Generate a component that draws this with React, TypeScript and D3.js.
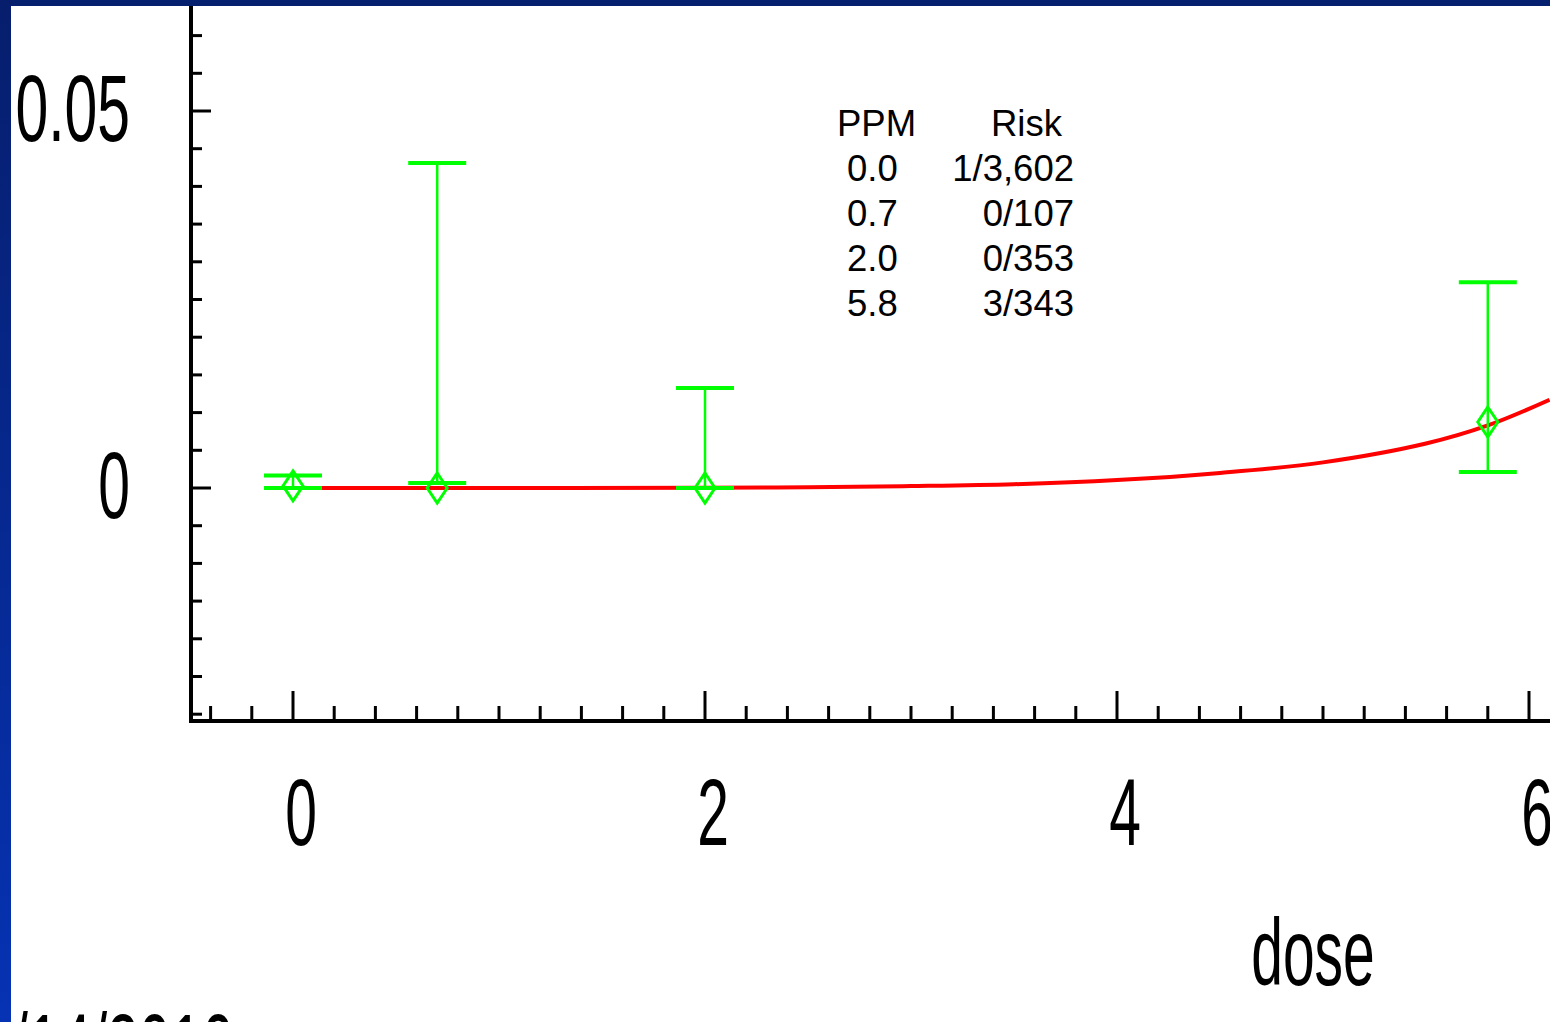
import React, { useEffect } from 'react';
import * as d3 from 'd3';

const W = 1550;
const H = 1022;

// observed points (dose in ppm, observed risk, lower / upper bound)
const doses = [0, 0.7, 2.0, 5.8];
const risks = [0.00028, 0, 0, 0.00875];
const lowers = [0, 0.00066, 0, 0.00212];
const uppers = [0.00166, 0.0431, 0.01326, 0.0273];

// fitted curve
const fitDose = [0, 1, 2, 2.5, 3, 3.5, 4, 4.5, 5, 5.5, 5.8, 6.1];
const fitRisk = [0, 0.00001, 0.00004, 0.0001, 0.00025, 0.0005, 0.00105, 0.002, 0.0034, 0.0059, 0.0083, 0.0117];

const xMajor = [0, 2, 4, 6];
const yMajor = [0, 0.05];
const yLabels = ['0', '0.05'];

const legendPpm = ['0.0', '0.7', '2.0', '5.8'];
const legendRisk = ['1/3,602', '0/107', '0/353', '3/343'];

const green = '#00ff00';
const narrow = 'Liberation Sans, Arial, sans-serif';

export default function App() {
  useEffect(() => {
    document.body.style.margin = '0';
    document.body.style.overflow = 'hidden';
  }, []);

  const x = d3.scaleLinear().domain([0, 6]).range([293, 1529]);
  const y = d3.scaleLinear().domain([0, 0.05]).range([488, 111]);

  const axisX = 191;
  const axisY = 721;

  const xMinor = d3.range(-2, 31).map((i) => i / 5).filter((v) => !xMajor.includes(v));
  const yMinor = d3.range(-6, 13).map((i) => i / 200).filter((v) => !yMajor.includes(v));

  const line = d3
    .line<number>()
    .x((d) => x(d))
    .y((d, i) => y(fitRisk[i]))
    .curve(d3.curveCatmullRom.alpha(0.5));

  return (
    <svg width={W} height={H} style={{ position: 'absolute', left: 0, top: 0, background: '#fff' }}>
      <defs>
        <linearGradient id="side" x1="0" y1="0" x2="0" y2="1">
          <stop offset="0" stopColor="#061e6c" />
          <stop offset="1" stopColor="#0633b4" />
        </linearGradient>
      </defs>
      <rect x={0} y={0} width={W} height={H} fill="#fff" />

      {/* fitted curve */}
      <path d={line(fitDose) || ''} fill="none" stroke="#ff0000" strokeWidth={4} />

      {/* error bars and diamonds */}
      {doses.map((d, i) => {
        const cx = x(d);
        const cy = y(risks[i]);
        return (
          <g key={'p' + i} stroke={green} fill="none">
            <line x1={cx} x2={cx} y1={y(uppers[i])} y2={y(lowers[i])} strokeWidth={2.5} />
            <line x1={cx - 29} x2={cx + 29} y1={y(uppers[i])} y2={y(uppers[i])} strokeWidth={4} />
            <line x1={cx - 29} x2={cx + 29} y1={y(lowers[i])} y2={y(lowers[i])} strokeWidth={4} />
            <path
              d={`M${cx},${cy - 15}L${cx + 10},${cy}L${cx},${cy + 15}L${cx - 10},${cy}Z`}
              strokeWidth={3}
            />
          </g>
        );
      })}

      {/* y axis */}
      <line x1={axisX} x2={axisX} y1={0} y2={axisY + 2} stroke="#000" strokeWidth={4} />
      {yMinor.map((v) => (
        <line key={'ym' + v} x1={axisX} x2={axisX + 11} y1={y(v)} y2={y(v)} stroke="#000" strokeWidth={3} />
      ))}
      {yMajor.map((v, i) => (
        <g key={'yM' + v}>
          <line x1={axisX} x2={axisX + 20} y1={y(v)} y2={y(v)} stroke="#000" strokeWidth={3} />
          <text
            transform={`translate(130,${y(v) + 30}) scale(${i === 1 ? 0.62 : 0.6},1)`}
            textAnchor="end"
            fontFamily={narrow}
            fontSize={95}
            fill="#000"
          >
            {yLabels[i]}
          </text>
        </g>
      ))}

      {/* x axis */}
      <line x1={axisX - 2} x2={W} y1={axisY} y2={axisY} stroke="#000" strokeWidth={4} />
      {xMinor.map((v) => (
        <line key={'xm' + v} x1={x(v)} x2={x(v)} y1={axisY} y2={axisY - 15} stroke="#000" strokeWidth={3} />
      ))}
      {xMajor.map((v) => (
        <g key={'xM' + v}>
          <line x1={x(v)} x2={x(v)} y1={axisY} y2={axisY - 30} stroke="#000" strokeWidth={3} />
          <text
            transform={`translate(${x(v) + 8},845) scale(0.6,1)`}
            textAnchor="middle"
            fontFamily={narrow}
            fontSize={95}
            fill="#000"
          >
            {String(v)}
          </text>
        </g>
      ))}
      <text
        transform="translate(1313,985) scale(0.6,1)"
        textAnchor="middle"
        fontFamily={narrow}
        fontSize={95}
        fill="#000"
      >
        dose
      </text>
      <text transform="translate(12,1080) scale(0.6,1)" fontFamily={narrow} fontSize={95} fill="#000">
        /14/2010
      </text>

      {/* legend table */}
      <g fontFamily={narrow} fontSize={36.5} fill="#000">
        <text x={837} y={136}>PPM</text>
        <text x={991} y={136}>Risk</text>
        {legendPpm.map((t, i) => (
          <text key={'lp' + i} x={847} y={181 + i * 45}>
            {t}
          </text>
        ))}
        {legendRisk.map((t, i) => (
          <text key={'lr' + i} x={1074} y={181 + i * 45} textAnchor="end">
            {t}
          </text>
        ))}
      </g>

      {/* blue frame */}
      <rect x={0} y={0} width={W} height={6} fill="#04206e" />
      <rect x={0} y={0} width={11} height={H} fill="url(#side)" />
    </svg>
  );
}
